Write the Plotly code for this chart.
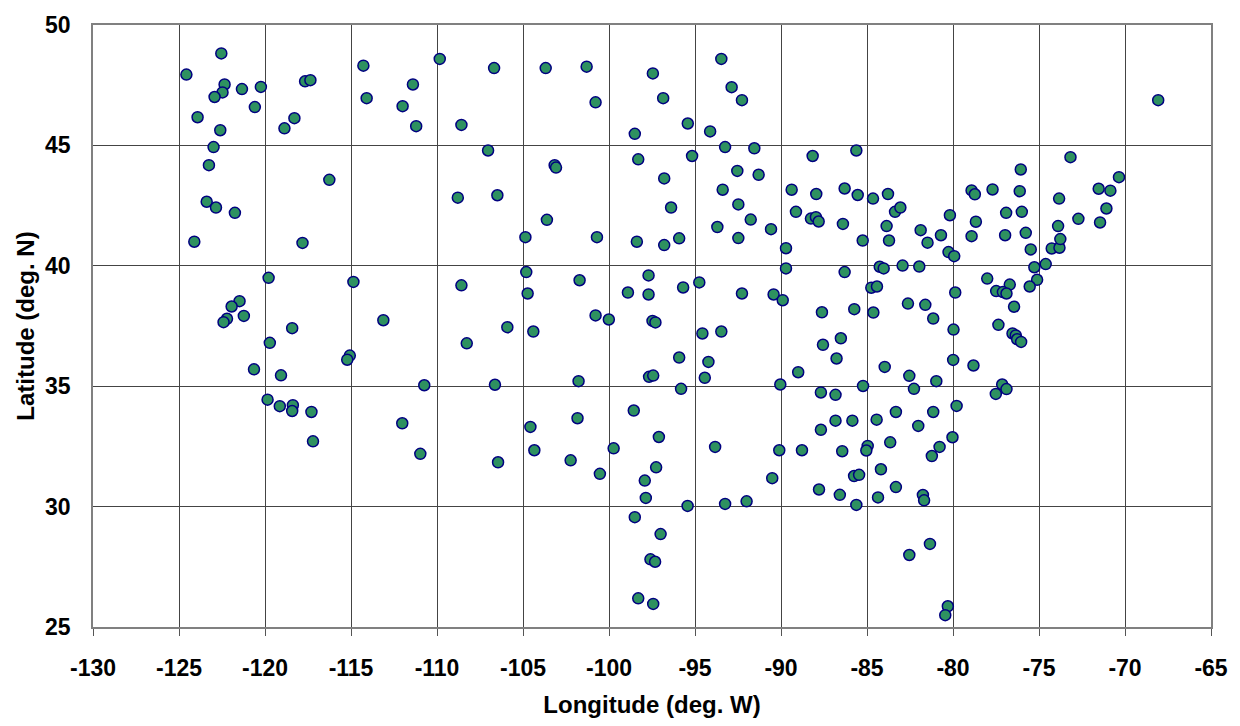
import plotly.graph_objects as go

lon = [
    -122.54, -124.57, -122.35, -122.47, -122.93, -121.34, -120.24, -120.59, -123.92, -122.60,
    -122.99, -123.26, -123.39, -122.85, -121.75, -117.67, -117.36, -118.29, -118.87, -116.26,
    -114.28, -114.09, -111.40, -112.00, -111.21, -109.84, -108.58, -108.79,
    -106.68, -103.68, -101.30, -100.78, -107.03, -103.16, -103.08, -106.49, -103.61, -97.45,
    -96.85, -98.50, -95.42, -94.12, -93.47, -92.87, -92.27, -98.30, -96.79, -96.39,
    -95.17, -93.25, -91.55, -92.54, -91.30, -93.39, -92.48, -91.76, -88.16, -89.38,
    -87.95, -86.30, -89.13, -88.26, -87.97, -87.81, -86.40,
    -68.07, -85.62, -85.54, -84.65, -83.78, -83.37, -83.06, -80.18, -78.92, -78.73,
    -77.70, -76.06, -76.12, -76.91, -76.00, -78.67, -73.17, -73.83, -71.53, -70.85,
    -70.35, -71.08, -72.71, -71.45,
    -124.11, -117.82, -119.79, -114.86, -108.58, -121.48, -121.94, -122.21, -122.41, -121.23,
    -118.42, -113.12, -119.72, -108.27, -115.07, -115.22, -120.64, -119.07, -110.74, -119.85,
    -119.14, -118.38, -118.42, -117.30, -112.02, -117.21, -110.97,
    -104.86, -100.70, -98.38, -96.79, -95.92, -93.70, -92.48, -90.58, -89.71, -104.81,
    -101.71, -104.73, -97.70, -98.90, -97.70, -95.69, -94.75, -92.27, -90.43, -89.90,
    -89.71, -86.30, -100.78, -100.01, -97.47, -97.30, -105.91, -104.40, -94.57, -93.47,
    -87.62, -86.52, -87.56, -86.77, -95.92, -94.22, -97.67, -97.43, -94.43, -89.00,
    -106.63, -101.77, -95.81, -90.04, -87.68, -86.83, -98.56, -101.83, -104.57, -86.83,
    -106.45, -104.34, -102.23, -100.53, -99.73, -97.10, -97.26, -97.92, -97.86, -95.43,
    -98.50, -97.00, -97.59, -97.32, -98.30, -97.43, -93.83, -93.25, -92.00, -90.51,
    -90.10, -88.78, -87.68, -86.44, -87.79, -86.58,
    -83.86, -73.89, -85.25, -83.72, -81.88, -81.48, -80.70, -78.92, -76.97, -75.77,
    -75.48, -74.26, -73.81, -73.76, -80.26, -79.93, -84.26, -84.03, -82.93, -81.96,
    -75.27, -74.61, -78.01, -76.70, -75.11, -75.54, -77.49, -77.10, -76.89, -79.87,
    -84.75, -84.42, -85.74, -84.63, -82.62, -81.61, -81.15, -76.45, -79.97, -77.36,
    -76.54, -76.35, -76.27, -76.04, -79.99, -78.81, -83.97, -82.54, -80.97, -82.27,
    -85.23, -77.14, -76.89, -77.51, -79.79, -85.85, -84.44, -83.32, -81.15, -82.02,
    -84.96, -85.04, -83.65, -80.78, -81.23, -80.03, -84.19, -85.75, -85.46, -83.32,
    -84.36, -85.62, -81.75, -81.68, -81.34, -82.54, -80.30, -80.45,
]

lat = [
    48.82, 47.94, 47.53, 47.20, 47.01, 47.34, 47.43, 46.59, 46.17, 45.63,
    44.93, 44.18, 42.66, 42.42, 42.20, 47.66, 47.71, 46.13, 45.71, 43.57,
    48.31, 46.96, 47.53, 46.63, 45.80, 48.59, 45.85, 42.83,
    48.21, 48.21, 48.27, 46.79, 44.79, 44.18, 44.08, 42.93, 41.91, 47.99,
    46.96, 45.48, 45.91, 45.58, 48.59, 47.42, 46.88, 44.42, 43.63, 42.42,
    44.56, 44.93, 44.88, 43.94, 43.78, 43.16, 42.55, 41.92, 44.56, 43.16,
    42.98, 43.21, 42.24, 41.96, 42.02, 41.84, 41.74,
    46.88, 44.79, 42.94, 42.79, 42.98, 42.24, 42.42, 42.10, 43.13, 42.97,
    43.17, 44.00, 43.10, 42.20, 42.24, 41.83, 44.51, 42.79, 43.20, 43.12,
    43.68, 42.38, 41.95, 41.80,
    41.00, 40.95, 39.50, 39.33, 39.19, 38.53, 38.31, 37.80, 37.66, 37.92,
    37.41, 37.74, 36.80, 36.78, 36.27, 36.10, 35.70, 35.45, 35.04, 34.44,
    34.17, 34.21, 33.97, 33.93, 33.46, 32.71, 32.19,
    41.19, 41.19, 41.00, 40.86, 41.14, 41.61, 41.15, 41.52, 40.73, 39.74,
    39.40, 38.85, 39.60, 38.89, 38.81, 39.10, 39.31, 38.85, 38.81, 38.57,
    39.89, 39.74, 37.94, 37.77, 37.71, 37.65, 37.45, 37.27, 37.19, 37.27,
    38.07, 36.99, 36.72, 36.15, 36.19, 36.01, 35.39, 35.44, 35.35, 35.58,
    35.06, 35.21, 34.89, 35.07, 34.74, 34.64, 33.99, 33.67, 33.31, 33.57,
    31.84, 32.34, 31.92, 31.36, 32.42, 32.89, 31.63, 31.08, 30.36, 30.03,
    29.56, 28.86, 27.81, 27.71, 26.19, 25.96, 32.48, 30.11, 30.22, 31.18,
    32.34, 32.34, 33.19, 32.30, 30.71, 30.49,
    41.65, 41.65, 41.05, 41.05, 41.48, 40.96, 41.27, 41.23, 41.27, 41.37,
    40.68, 40.72, 40.75, 41.11, 40.57, 40.40, 39.96, 39.89, 40.01, 39.97,
    39.94, 40.07, 39.47, 39.22, 39.42, 39.14, 38.95, 38.91, 38.85, 38.89,
    39.09, 39.14, 38.20, 38.06, 38.43, 38.38, 37.81, 38.30, 37.35, 37.55,
    37.19, 37.11, 36.95, 36.84, 36.09, 35.86, 35.80, 35.43, 35.21, 34.89,
    35.01, 35.07, 34.88, 34.68, 34.18, 33.57, 33.61, 33.93, 33.93, 33.35,
    32.52, 32.33, 32.67, 32.48, 32.10, 32.88, 31.55, 31.27, 31.32, 30.81,
    30.38, 30.07, 30.48, 30.26, 28.45, 27.99, 25.86, 25.49,
]

x_ticks = list(range(-130, -64, 5))
y_ticks = list(range(25, 51, 5))

fig = go.Figure()
fig.add_trace(go.Scatter(
    x=lon, y=lat, mode="markers",
    marker=dict(size=11, color="#2E9160", line=dict(color="#000080", width=1.5)),
    showlegend=False,
))

tickfont = dict(family="Liberation Sans, Arial, sans-serif", size=23, color="black", weight="bold")
titlefont = dict(family="Liberation Sans, Arial, sans-serif", size=24, color="black", weight="bold")

fig.update_layout(
    width=1240, height=726,
    margin=dict(l=93, r=27, t=19, b=99),
    paper_bgcolor="white", plot_bgcolor="white",
    font=dict(family="Liberation Sans, Arial, sans-serif", color="black"),
)
fig.update_xaxes(
    range=[-130, -65], tickvals=x_ticks, ticktext=[str(v) for v in x_ticks],
    showgrid=True, gridcolor="#444444", gridwidth=1,
    showline=True, linecolor="#808080", linewidth=1.5, mirror=True,
    ticks="outside", ticklen=7, tickcolor="#555555", ticklabelstandoff=13,
    tickfont=tickfont, zeroline=False,
    title=dict(text="Longitude (deg. W)", font=titlefont, standoff=16),
)
fig.update_yaxes(
    range=[25, 50], tickvals=y_ticks, ticktext=[str(v) for v in y_ticks],
    showgrid=True, gridcolor="#444444", gridwidth=1,
    showline=True, linecolor="#808080", linewidth=1.5, mirror=True,
    ticks="", ticklabelstandoff=16,
    tickfont=tickfont, zeroline=False,
    title=dict(text="Latitude (deg. N)", font=titlefont, standoff=4),
)

fig.write_html("out.html")
